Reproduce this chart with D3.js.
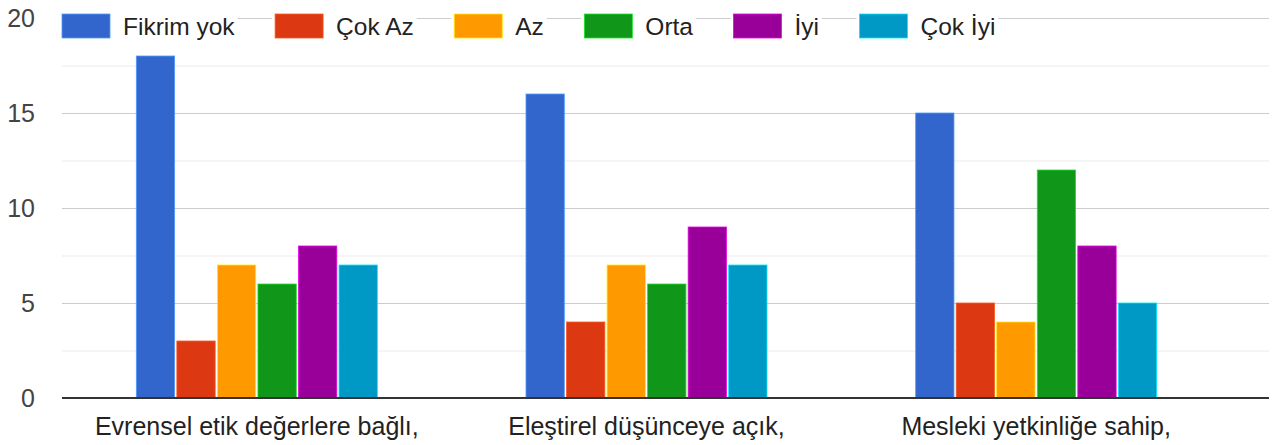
<!DOCTYPE html>
<html>
<head>
<meta charset="utf-8">
<script src="https://cdn.jsdelivr.net/npm/d3@7"></script>
<style>
  html, body { margin: 0; padding: 0; background: #fff; }
  svg { display: block; font-family: "Liberation Sans", Arial, sans-serif; }
</style>
</head>
<body>
<svg id="chart" width="1285" height="445"></svg>
<script>
// ---- data ----
const categories = ["Evrensel etik değerlere bağlı,", "Eleştirel düşünceye açık,", "Mesleki yetkinliğe sahip,"];
const seriesNames = ["Fikrim yok", "Çok Az", "Az", "Orta", "İyi", "Çok İyi"];
const fikrimYok = [18, 16, 15];
const cokAz     = [3, 4, 5];
const az        = [7, 7, 4];
const orta      = [6, 6, 12];
const iyi       = [8, 9, 8];
const cokIyi    = [7, 7, 5];
const seriesColors = ["#3366cc", "#dc3912", "#ff9900", "#109618", "#990099", "#0099c6"];
const majorTicks = [0, 5, 10, 15, 20];
const minorTicks = [2.5, 7.5, 12.5, 17.5];

const seriesValues = [fikrimYok, cokAz, az, orta, iyi, cokIyi];

// ---- layout ----
const svg = d3.select("#chart");
const plotLeft = 62, plotRight = 1269, plotTop = 18, plotBottom = 398;
const fontSize = 25;
const legendFontSize = 24.5;

const y = d3.scaleLinear().domain([0, 20]).range([plotBottom, plotTop]);
const x0 = d3.scaleBand().domain(categories).range([plotLeft, 1231]).padding(0);
const groupFrac = 0.6185;
const x1 = d3.scaleBand().domain(seriesNames)
  .range([0, x0.bandwidth() * groupFrac]).paddingInner(0.055).paddingOuter(0);
const groupOffset = x0.bandwidth() * (1 - groupFrac) / 2;

// gridlines (minor then major)
const gMinor = svg.append("g")
  .attr("transform", `translate(${plotLeft},0)`)
  .call(d3.axisLeft(y).tickValues(minorTicks).tickSize(-(plotRight - plotLeft)).tickFormat(""));
gMinor.select(".domain").remove();
gMinor.selectAll("line").attr("stroke", "#ebebeb").attr("stroke-width", 1.2);

const gMajor = svg.append("g")
  .attr("transform", `translate(${plotLeft},0)`)
  .call(d3.axisLeft(y).tickValues(majorTicks.filter(d => d !== 0)).tickSize(-(plotRight - plotLeft)).tickFormat(""));
gMajor.select(".domain").remove();
gMajor.selectAll("line").attr("stroke", "#cccccc").attr("stroke-width", 1.2);

// tick labels
const gLab = svg.append("g")
  .attr("transform", `translate(35,0)`)
  .call(d3.axisLeft(y).tickValues(majorTicks).tickSize(0).tickPadding(0));
gLab.select(".domain").remove();
gLab.selectAll("text")
  .attr("font-size", fontSize)
  .attr("font-family", '"Liberation Sans", Arial, sans-serif')
  .attr("fill", "#444")
  .attr("text-anchor", "end");

// bars
const groups = svg.append("g").selectAll("g")
  .data(categories)
  .join("g")
  .attr("transform", d => `translate(${x0(d) + groupOffset},0)`);

groups.selectAll("rect")
  .data((c, ci) => seriesNames.map((s, si) => ({ s, v: seriesValues[si][ci], color: seriesColors[si] })))
  .join("rect")
  .attr("x", d => x1(d.s))
  .attr("width", x1.bandwidth())
  .attr("y", d => y(d.v))
  .attr("height", d => y(0) - y(d.v))
  .attr("fill", d => d.color)
  .attr("stroke", d => d3.color(d.color).brighter(1.2))
  .attr("stroke-width", 0.8);

// baseline
svg.append("line")
  .attr("x1", plotLeft).attr("x2", plotRight)
  .attr("y1", y(0)).attr("y2", y(0))
  .attr("stroke", "#333").attr("stroke-width", 2);

// category labels
const gx = svg.append("g")
  .attr("transform", `translate(0,${plotBottom})`)
  .call(d3.axisBottom(x0).tickSize(0).tickPadding(0));
gx.select(".domain").remove();
gx.selectAll("text")
  .attr("font-size", fontSize)
  .attr("font-family", '"Liberation Sans", Arial, sans-serif')
  .attr("fill", "#222")
  .attr("dy", null)
  .attr("y", 37);

// legend
const legend = svg.append("g");
let lx = 62;
const ly = 26;
seriesNames.forEach((name, i) => {
  const item = legend.append("g");
  const bg = item.append("rect").attr("fill", "#fff");
  item.append("rect")
    .attr("x", lx).attr("y", ly - 12)
    .attr("width", 48).attr("height", 24)
    .attr("fill", seriesColors[i])
    .attr("stroke", d3.color(seriesColors[i]).brighter(1.2))
    .attr("stroke-width", 0.8);
  const t = item.append("text")
    .attr("x", lx + 61).attr("y", ly)
    .attr("dy", "0.35em")
    .attr("font-size", legendFontSize)
    .attr("fill", "#222")
    .text(name);
  const w = t.node().getComputedTextLength();
  bg.attr("x", lx - 3).attr("y", ly - 15).attr("width", 61 + w + 6).attr("height", 30);
  lx += 61 + w + 40.5;
});
</script>
</body>
</html>
